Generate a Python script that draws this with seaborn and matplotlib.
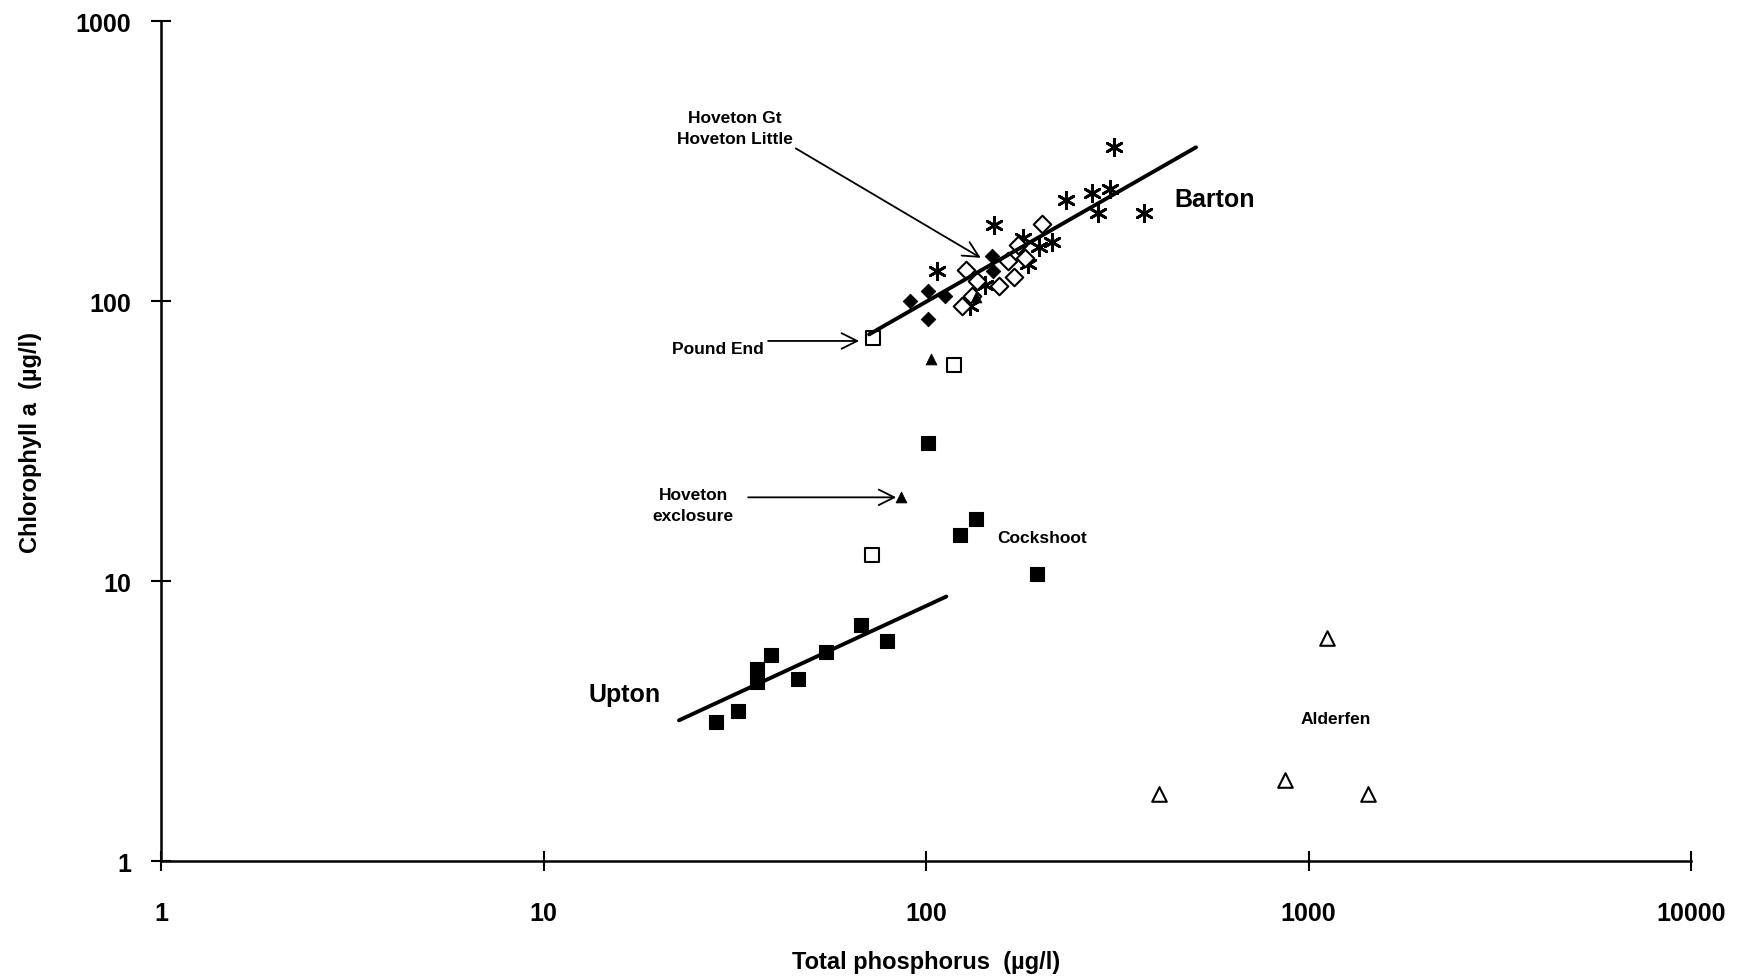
import matplotlib
matplotlib.use("Agg")
import matplotlib.pyplot as plt
import seaborn as sns

# Barton (asterisks)
barton_tp = [151, 107, 179, 214, 197, 185, 143, 130, 310, 232, 271, 303, 282, 372]
barton_chl = [187, 128, 168, 163, 156, 136, 114, 96, 354, 230, 244, 251, 206, 206]

# Hoveton Gt / Hoveton Little (open and filled diamonds)
hov_open_tp = [201, 127, 136, 164, 182, 170, 155, 124, 174, 132]
hov_open_chl = [189, 129, 118, 139, 143, 122, 113, 96, 159, 104]
hov_fill_tp = [91, 101, 112, 149, 150, 101]
hov_fill_chl = [100, 109, 104, 145, 128, 86]

# filled triangles (Hoveton exclosure etc.)
tri_fill_tp = [103, 86, 135]
tri_fill_chl = [62, 20, 103]

# open squares (Pound End)
sq_open_tp = [72.6, 118, 72.1]
sq_open_chl = [73.9, 59.3, 12.35]

# filled squares: Upton and Cockshoot
upton_tp = [28.3, 32.3, 36.2, 36.2, 39.3, 46.3, 54.8, 67.6, 79.1]
upton_chl = [3.13, 3.44, 4.36, 4.86, 5.43, 4.47, 5.57, 6.95, 6.12]
cock_tp = [101, 123, 135, 195]
cock_chl = [31.2, 14.6, 16.6, 10.6]

# Alderfen (open triangles)
alder_tp = [406, 869, 1119, 1434]
alder_chl = [1.74, 1.95, 6.25, 1.74]

# fitted lines
barton_fit_tp = [71, 508]
barton_fit_chl = [76, 354]
upton_fit_tp = [22.6, 113]
upton_fit_chl = [3.18, 8.8]

tick_vals = [1, 10, 100, 1000, 10000]
tick_labels = ["1", "10", "100", "1000", "10000"]

sns.set_style("ticks")
plt.rcParams["font.family"] = ["Liberation Sans", "DejaVu Sans"]
plt.rcParams["font.weight"] = "bold"
plt.rcParams["text.color"] = "black"
plt.rcParams["axes.labelcolor"] = "black"

fig = plt.figure(figsize=(17.39, 9.79), dpi=100)
ax = fig.add_axes([0.0926, 0.1195, 0.8798, 0.858])
ax.set_xscale("log")
ax.set_yscale("log")

# regression lines
sns.lineplot(x=barton_fit_tp, y=barton_fit_chl, color="black", linewidth=2.8, ax=ax)
sns.lineplot(x=upton_fit_tp, y=upton_fit_chl, color="black", linewidth=2.8, ax=ax)

# points
sns.scatterplot(x=barton_tp, y=barton_chl, marker=(6, 2, 0), color="black",
                s=140, linewidth=2.0, ax=ax)
sns.scatterplot(x=hov_open_tp, y=hov_open_chl, marker="D", color="white",
                edgecolor="black", s=80, linewidth=1.5, ax=ax)
sns.scatterplot(x=hov_fill_tp, y=hov_fill_chl, marker="D", color="black",
                edgecolor="black", s=55, ax=ax)
sns.scatterplot(x=tri_fill_tp, y=tri_fill_chl, marker="^", color="black",
                edgecolor="black", s=60, ax=ax)
sns.scatterplot(x=sq_open_tp, y=sq_open_chl, marker="s", color="white",
                edgecolor="black", s=110, linewidth=1.5, ax=ax)
sns.scatterplot(x=upton_tp + cock_tp, y=upton_chl + cock_chl, marker="s",
                color="black", edgecolor="black", s=95, ax=ax)
sns.scatterplot(x=alder_tp, y=alder_chl, marker="^", color="white",
                edgecolor="black", s=110, linewidth=1.5, ax=ax)

ax.set_xlim(1, 10000)
ax.set_ylim(1, 1000)
ax.set_xticks(tick_vals)
ax.set_xticklabels(tick_labels)
ax.set_yticks(tick_vals[:4])
ax.set_yticklabels(tick_labels[:4])
ax.minorticks_off()
ax.tick_params(axis="both", direction="inout", length=15, width=1.5,
               labelsize=18, colors="black")
ax.tick_params(axis="x", pad=21)
ax.tick_params(axis="y", pad=14)
for lab in ax.get_xticklabels() + ax.get_yticklabels():
    lab.set_fontweight("bold")

sns.despine(ax=ax)
for side in ["left", "bottom"]:
    ax.spines[side].set_linewidth(1.8)
    ax.spines[side].set_color("black")

ax.set_xlabel("Total phosphorus  (µg/l)", fontsize=17, fontweight="bold", labelpad=18)
ax.set_ylabel("Chlorophyll a  (µg/l)", fontsize=17, fontweight="bold", labelpad=24)

# labels and arrows
small = dict(fontsize=12.5, fontweight="bold", ha="center", va="center", color="black")
arrow = dict(arrowstyle="->", lw=1.3, color="black", mutation_scale=28)

ax.text(31.7, 415, "Hoveton Gt\nHoveton Little", linespacing=1.5, **small)
ax.annotate("", xy=(141, 141), xytext=(45, 355), arrowprops=arrow)
ax.text(28.5, 67.4, "Pound End", **small)
ax.annotate("", xy=(68, 72), xytext=(38, 72), arrowprops=arrow)
ax.text(24.6, 18.7, "Hoveton\nexclosure", linespacing=1.5, **small)
ax.annotate("", xy=(85, 19.9), xytext=(33.7, 19.9), arrowprops=arrow)
ax.text(201, 14.3, "Cockshoot", **small)
ax.text(1181, 3.24, "Alderfen", **small)
ax.text(567, 231, "Barton", fontsize=18, fontweight="bold", ha="center", va="center")
ax.text(16.3, 3.94, "Upton", fontsize=18, fontweight="bold", ha="center", va="center")

fig.savefig("out.png", dpi=100, facecolor="white")
